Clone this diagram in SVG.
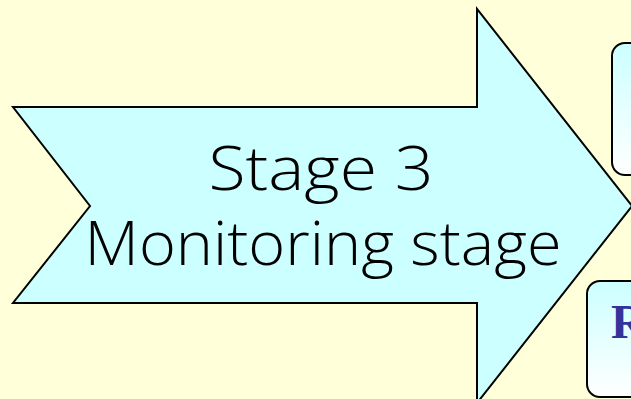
<svg xmlns="http://www.w3.org/2000/svg" width="631" height="399" viewBox="0 0 631 399">
  <style>
    .outline { stroke: #000; stroke-width: 2; stroke-linejoin: miter; }
    .stage { font-family: "Open Sans", "DejaVu Sans", sans-serif; font-weight: 300; font-size: 60px; fill: #000; text-anchor: middle; }
    .card { stroke: #000; stroke-width: 2; fill: url(#cardFill); }
    .cardLabel { font-family: "Liberation Serif", serif; font-weight: bold; font-size: 48px; fill: #333399; }
  </style>
  <defs>
    <linearGradient id="cardFill" x1="0" y1="0" x2="0" y2="1">
      <stop offset="0" stop-color="#CCFFFF"/>
      <stop offset="1" stop-color="#FFFFFF"/>
    </linearGradient>
  </defs>

  <rect width="631" height="399" fill="#FFFFDA"/>

  <!-- Stage arrow -->
  <g id="stage3">
    <polygon class="outline" fill="#CCFFFF" points="13,107 477,107 477,9 632,206 477,403 477,303 13,303 90,206"/>
    <text class="stage" x="321" y="190" textLength="225" lengthAdjust="spacingAndGlyphs">Stage 3</text>
    <text class="stage" x="323" y="265" textLength="477" lengthAdjust="spacingAndGlyphs">Monitoring stage</text>
  </g>

  <!-- Cards on the right -->
  <g id="card-top">
    <rect class="card" x="612" y="43" width="60" height="132" rx="13"/>
  </g>
  <g id="card-bottom">
    <rect class="card" x="587" y="281" width="80" height="116" rx="13"/>
    <text class="cardLabel" x="611" y="338">R</text>
  </g>
</svg>
